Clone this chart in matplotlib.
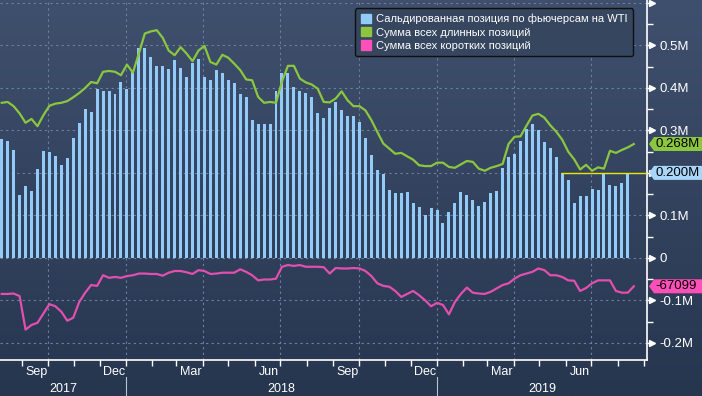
import numpy as np
import pandas as pd
import matplotlib
matplotlib.use('Agg')
import matplotlib.pyplot as plt
import matplotlib.dates as mdates
import matplotlib.transforms as mtransforms
from matplotlib.patches import Patch, Polygon
from matplotlib.colors import LinearSegmentedColormap

# weekly net position on WTI futures, millions of contracts
net = [0.279, 0.275, 0.253, 0.147, 0.169, 0.157, 0.209, 0.251, 0.249, 0.239,
       0.218, 0.235, 0.282, 0.317, 0.350, 0.343, 0.397, 0.392, 0.392, 0.385,
       0.413, 0.397, 0.439, 0.495, 0.495, 0.472, 0.451, 0.451, 0.444, 0.465,
       0.446, 0.425, 0.458, 0.467, 0.425, 0.418, 0.442, 0.435, 0.418, 0.411,
       0.385, 0.378, 0.324, 0.315, 0.315, 0.315, 0.392, 0.435, 0.435, 0.402,
       0.392, 0.387, 0.378, 0.340, 0.329, 0.352, 0.366, 0.347, 0.333, 0.333,
       0.319, 0.282, 0.242, 0.206, 0.197, 0.159, 0.152, 0.152, 0.155, 0.129,
       0.119, 0.100, 0.117, 0.112, 0.082, 0.107, 0.129, 0.155, 0.147, 0.136,
       0.122, 0.131, 0.152, 0.157, 0.211, 0.237, 0.244, 0.275, 0.303, 0.315,
       0.300, 0.272, 0.258, 0.237, 0.200, 0.184, 0.129, 0.145, 0.145, 0.162,
       0.160, 0.200, 0.171, 0.170, 0.176, 0.200]

# sum of all long positions
longs = [0.365, 0.367, 0.357, 0.340, 0.318, 0.327, 0.310, 0.336, 0.358, 0.363,
         0.365, 0.369, 0.378, 0.388, 0.400, 0.414, 0.411, 0.438, 0.440, 0.438,
         0.430, 0.455, 0.436, 0.481, 0.528, 0.533, 0.536, 0.518, 0.488, 0.477,
         0.496, 0.481, 0.463, 0.488, 0.499, 0.461, 0.455, 0.478, 0.471, 0.457,
         0.442, 0.420, 0.418, 0.379, 0.365, 0.367, 0.365, 0.415, 0.452, 0.452,
         0.422, 0.413, 0.408, 0.398, 0.367, 0.366, 0.375, 0.392, 0.371, 0.357,
         0.357, 0.347, 0.324, 0.296, 0.269, 0.257, 0.245, 0.247, 0.239, 0.231,
         0.218, 0.216, 0.216, 0.224, 0.224, 0.214, 0.212, 0.220, 0.228, 0.226,
         0.210, 0.205, 0.212, 0.216, 0.221, 0.268, 0.285, 0.286, 0.311, 0.335,
         0.339, 0.330, 0.312, 0.297, 0.278, 0.250, 0.232, 0.208, 0.219, 0.205,
         0.213, 0.210, 0.252, 0.247, 0.254, 0.260, 0.268]

# sum of all short positions
shorts = [-0.085, -0.085, -0.084, -0.090, -0.169, -0.158, -0.153, -0.131, -0.109, -0.114,
          -0.127, -0.148, -0.141, -0.104, -0.082, -0.064, -0.066, -0.041, -0.047, -0.045,
          -0.047, -0.043, -0.041, -0.037, -0.037, -0.038, -0.038, -0.042, -0.035, -0.031,
          -0.031, -0.034, -0.038, -0.029, -0.031, -0.038, -0.037, -0.035, -0.035, -0.035,
          -0.027, -0.033, -0.041, -0.053, -0.051, -0.051, -0.049, -0.021, -0.017, -0.019,
          -0.017, -0.021, -0.021, -0.021, -0.022, -0.037, -0.024, -0.025, -0.025, -0.024,
          -0.025, -0.031, -0.043, -0.060, -0.066, -0.068, -0.078, -0.092, -0.085, -0.078,
          -0.088, -0.100, -0.114, -0.106, -0.111, -0.133, -0.104, -0.085, -0.070, -0.082,
          -0.084, -0.085, -0.080, -0.072, -0.064, -0.060, -0.049, -0.041, -0.037, -0.033,
          -0.025, -0.029, -0.041, -0.041, -0.045, -0.053, -0.054, -0.078, -0.071, -0.060,
          -0.053, -0.053, -0.053, -0.078, -0.082, -0.082, -0.067]

bar_dates = pd.date_range('2017-08-08', periods=len(net), freq='7D')
line_dates = pd.date_range('2017-08-08', periods=len(longs), freq='7D')

legend_labels = ['Сальдированная позиция по фьючерсам на WTI',
                 'Сумма всех длинных позиций',
                 'Сумма всех коротких позиций']
tag_texts = ['0.268M', '0.200M', '-67099']
years = [2017, 2018, 2019]

BG_TOP = '#3f506e'
BG_BOT = '#27364f'
BAR = '#92caf8'
GREEN = '#8cc63e'
PINK = '#e24fae'
GRID = '#6d819e'

plt.rcParams['font.family'] = ['Liberation Sans', 'DejaVu Sans']

fig = plt.figure(figsize=(7.02, 3.96), dpi=100)

# gradient background over the whole figure
bg = fig.add_axes([0, 0, 1, 1], zorder=-1)
cmap = LinearSegmentedColormap.from_list('bg', [BG_TOP, BG_BOT])
bg.imshow(np.linspace(0, 1, 256).reshape(-1, 1), aspect='auto', cmap=cmap,
          extent=[0, 1, 0, 1], origin='upper')
bg.axis('off')

ax = fig.add_axes([0, 36 / 396, 647 / 702, 360 / 396])
ax.set_facecolor('none')

xmin = pd.Timestamp('2017-08-06')
xmax = pd.Timestamp('2019-09-04 12:00')
ylo, yhi = -0.2405, 0.607
ax.set_xlim(xmin, xmax)
ax.set_ylim(ylo, yhi)

ax.bar(bar_dates, net, width=3.5, color=BAR, zorder=2)
ax.plot(line_dates, longs, color=GREEN, lw=1.6, zorder=3)
ax.plot(line_dates, shorts, color=PINK, lw=1.6, zorder=3)

# last value reference line
ax.hlines(net[-1], bar_dates[94] - pd.Timedelta(days=2), xmax, color='#e8e800', lw=1, zorder=4)

# grid
ax.set_axisbelow(True)
ax.grid(axis='y', which='major', ls=(0, (2, 3)), color=GRID, lw=0.8)
quarters = pd.date_range('2017-10-01', '2019-09-01', freq='QS')
ax.vlines(quarters, ylo, yhi, colors=GRID, linestyles=(0, (2, 3)), lw=0.8, zorder=1)

# spines
for s in ['top', 'left']:
    ax.spines[s].set_visible(False)
ax.spines['bottom'].set_color('white')
ax.spines['right'].set_color('white')
ax.spines['bottom'].set_linewidth(1.2)
ax.spines['right'].set_linewidth(1.2)

# right y axis (0.2M and 0.6M labels sit under the tag / off the top)
ax.yaxis.tick_right()
majors = np.round(np.arange(-0.2, 0.61, 0.1), 2)
ax.set_yticks(majors)
ax.set_yticks(np.round(np.arange(-0.15, 0.6, 0.1), 2), minor=True)
ylabels = []
for v in majors:
    if v == 0:
        ylabels.append('0')
    elif v in (0.2, 0.6):
        ylabels.append('')
    else:
        ylabels.append(f'{v:.1f}M')
ax.set_yticklabels(ylabels)
ax.tick_params(axis='y', which='major', length=4, width=1, color='white',
               labelcolor='white', labelsize=9.5, pad=5)
ax.tick_params(axis='y', which='minor', length=4, width=1, color='white')
blend = mtransforms.blended_transform_factory(ax.transAxes, ax.transData)
ax.plot([652 / 647] * len(majors), majors, ls='none', marker='>', ms=4.5, color='white',
        transform=blend, clip_on=False)

# x axis: month ticks, labels mid-month
ax.xaxis.set_major_locator(mdates.MonthLocator())
ax.xaxis.set_major_formatter(plt.NullFormatter())
ax.tick_params(axis='x', which='major', length=4, width=1, color='white', direction='out')
xblend = mtransforms.blended_transform_factory(ax.transData, ax.transAxes)
for d in pd.date_range(xmin, xmax, freq='MS'):
    mid = d + pd.Timedelta(days=17)
    if d.month in (3, 6, 9, 12) and mid < xmax - pd.Timedelta(days=10):
        ax.text(mid, -0.042, d.strftime('%b'), transform=xblend,
                ha='center', va='baseline', color='white', fontsize=9)
for y in years:
    start = max(pd.Timestamp(f'{y}-01-01'), xmin)
    end = min(pd.Timestamp(f'{y + 1}-01-01'), xmax)
    ax.text(start + (end - start) / 2, -0.089, str(y), transform=xblend,
            ha='center', va='baseline', color='white', fontsize=9)
    if y > years[0]:
        ax.plot([start, start], [-0.047, -0.1], transform=xblend, clip_on=False,
                color='#b8c2d0', lw=0.8)

# legend
handles = [Patch(color=c) for c in [BAR, GREEN, '#ff4fb8']]
leg = ax.legend(handles, legend_labels, loc='upper right', bbox_to_anchor=(0.979, 0.977),
                borderaxespad=0, fontsize=8, handlelength=0.9, handleheight=0.9,
                handletextpad=0.5, labelspacing=0.25, borderpad=0.5, fancybox=True,
                facecolor='#36465f', edgecolor='#101010', framealpha=1, labelcolor='white')
leg.get_frame().set_linewidth(1)
leg.set_zorder(6)


# value tags on the right axis
def value_tag(value, color, text):
    x0 = ax.transAxes.transform((1, 0))[0]
    y0 = ax.transData.transform((mdates.date2num(xmax), value))[1]
    h = 7
    pts = [(x0 + 2, y0), (x0 + 7, y0 + h), (705, y0 + h), (705, y0 - h), (x0 + 7, y0 - h)]
    fig.add_artist(Polygon(pts, closed=True, transform=mtransforms.IdentityTransform(),
                           facecolor=color, edgecolor='none', zorder=5))
    tx, ty = fig.transFigure.inverted().transform((x0 + 8, y0))
    fig.text(tx, ty, text, ha='left', va='center', color='black', fontsize=9.5, zorder=6)


value_tag(longs[-1], GREEN, tag_texts[0])
value_tag(net[-1], '#a8d6fa', tag_texts[1])
value_tag(shorts[-1], '#ff4fb8', tag_texts[2])

fig.savefig('out.png', dpi=100)
